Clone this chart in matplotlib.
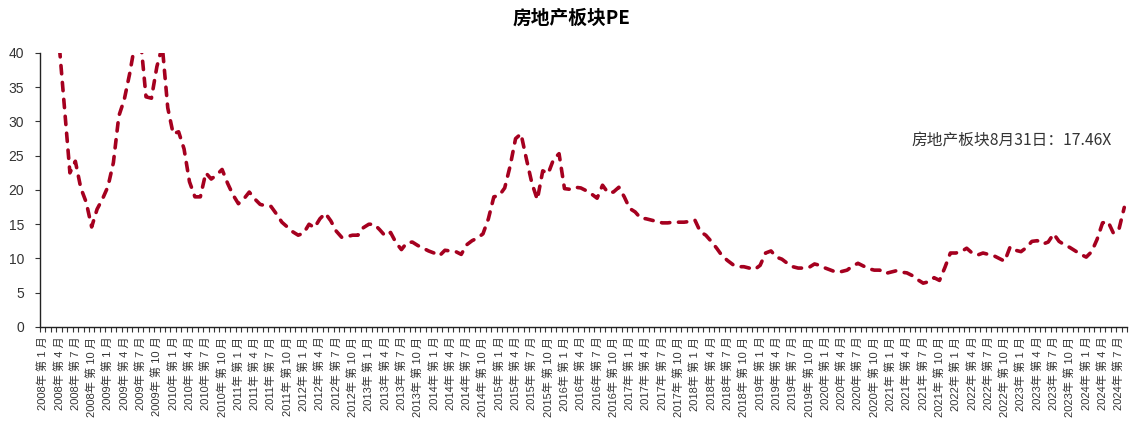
import numpy as np
import matplotlib
matplotlib.use("Agg")
import matplotlib.pyplot as plt

plt.rcParams['font.family'] = ['Liberation Sans', 'Noto Sans CJK SC', 'DejaVu Sans']

# Monthly PE of the real-estate sector, Jan 2008 - Aug 2024
years = list(range(2008, 2025))
months = [(y, m) for y in years for m in range(1, 13)][:200]

pe_2008 = [50, 48, 45, 41.5, 32, 22.5, 24.2, 20.3, 18.2, 14.6, 17.2, 18.7]
pe_2009 = [20.5, 24, 30.8, 33.2, 37, 41.5, 42, 33.6, 33.4, 38, 41, 32]
pe_2010 = [28.2, 28.5, 26, 21.2, 19, 19, 22.5, 21.6, 22.2, 23.0, 21.0, 19.3]
pe_2011 = [18.0, 18.7, 19.7, 18.7, 17.9, 17.7, 17.6, 16.5, 15.3, 14.6, 13.9, 13.4]
pe_2012 = [13.7, 15.0, 14.5, 15.8, 16.6, 15.5, 14.0, 13.1, 13.2, 13.4, 13.4, 14.5]
pe_2013 = [15.0, 15.0, 14.2, 13.3, 13.8, 12.3, 11.3, 12.3, 12.4, 11.9, 11.5, 11.1]
pe_2014 = [10.8, 10.4, 11.2, 11.1, 11.0, 10.6, 12.0, 12.6, 13.0, 13.6, 15.8, 19.0]
pe_2015 = [19.2, 20.3, 23.5, 27.5, 28.2, 24.5, 21.0, 18.6, 22.8, 22.4, 24.5, 25.3]
pe_2016 = [20.2, 20.1, 20.4, 20.3, 19.9, 19.4, 18.8, 20.7, 19.6, 19.7, 20.4, 19.0]
pe_2017 = [17.3, 16.8, 15.9, 15.8, 15.6, 15.4, 15.2, 15.2, 15.3, 15.3, 15.3, 15.4]
pe_2018 = [15.6, 13.9, 13.4, 12.5, 11.5, 10.4, 9.7, 9.1, 8.8, 8.8, 8.6, 8.4]
pe_2019 = [9.0, 10.8, 11.1, 10.2, 9.9, 9.3, 8.8, 8.6, 8.6, 8.7, 9.2, 9.0]
pe_2020 = [8.6, 8.3, 8.0, 8.1, 8.3, 8.9, 9.3, 8.9, 8.5, 8.3, 8.3, 7.8]
pe_2021 = [8.0, 8.2, 8.0, 7.9, 7.5, 6.9, 6.4, 6.6, 7.2, 6.8, 8.7, 10.8]
pe_2022 = [10.8, 11.0, 11.5, 10.8, 10.5, 10.8, 10.6, 10.4, 10.0, 9.6, 11.7, 11.2]
pe_2023 = [11.0, 11.6, 12.5, 12.6, 12.1, 12.4, 13.6, 12.5, 12.0, 11.6, 11.1, 10.6]
pe_2024 = [10.2, 11.0, 12.8, 15.2, 15.4, 13.7, 14.2, 17.46]

pe = (pe_2008 + pe_2009 + pe_2010 + pe_2011 + pe_2012 + pe_2013 + pe_2014
      + pe_2015 + pe_2016 + pe_2017 + pe_2018 + pe_2019 + pe_2020 + pe_2021
      + pe_2022 + pe_2023 + pe_2024)

tick_labels = [f"{y}年 第 {m} 月" for (y, m) in months if m in (1, 4, 7, 10)]

title = "房地产板块PE"
note = "房地产板块8月31日：17.46X"

line_color = "#A5001F"
text_color = "#333333"
cjk = ['Noto Sans CJK SC', 'DejaVu Sans']

fig = plt.figure(figsize=(11.37, 4.24), dpi=100)
ax = fig.add_axes([0.0352, 0.2288, 0.9560, 0.6462])

x = np.arange(len(pe))
ax.plot(x, pe, color=line_color, lw=2.6, linestyle=(0, (2.3, 2.4)),
        dash_capstyle='round', solid_capstyle='round')

ax.set_xlim(-0.5, 199.5)
ax.set_ylim(0, 40)
ax.set_yticks(np.arange(0, 41, 5))

# one tick mark per month, one label per quarter
ax.set_xticks(np.arange(-0.5, 200, 1), minor=True)
ax.set_xticks(np.arange(0, 200, 3))
ax.set_xticklabels(tick_labels, rotation=90, fontsize=8, color=text_color)
ax.tick_params(axis='x', which='major', length=0, pad=7)
ax.tick_params(axis='x', which='minor', length=3.5, width=0.8, color=text_color)
ax.tick_params(axis='y', length=3.5, width=0.8, labelsize=10, color=text_color,
               labelcolor=text_color, pad=8)

for s in ("top", "right"):
    ax.spines[s].set_visible(False)
for s in ("left", "bottom"):
    ax.spines[s].set_color("#222222")
    ax.spines[s].set_linewidth(1.0)

fig.text(0.503, 0.957, title, ha='center', va='center', fontsize=13.5,
         fontweight='bold', family=cjk)
fig.text(0.978, (424 - 141) / 424, note, ha='right', va='center',
         fontsize=11.3, color=text_color, family=cjk)

fig.savefig("out.png", dpi=100)
